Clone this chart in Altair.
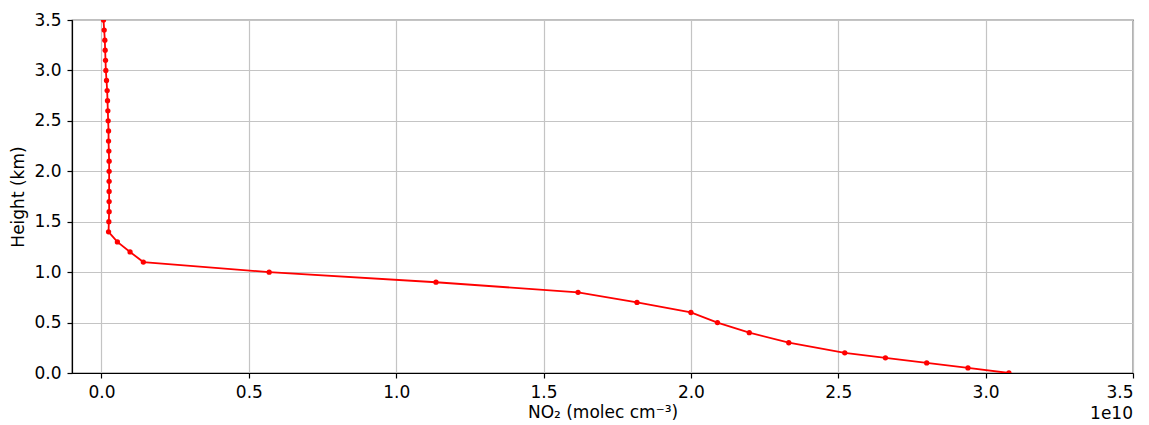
import altair as alt
import pandas as pd

heights = [0.0, 0.05, 0.1, 0.15, 0.2, 0.3, 0.4, 0.5, 0.6, 0.7, 0.8, 0.9, 1.0, 1.1, 1.2, 1.3, 1.4,
           1.5, 1.6, 1.7, 1.8, 1.9, 2.0, 2.1, 2.2, 2.3, 2.4, 2.5, 2.6, 2.7, 2.8, 2.9, 3.0, 3.1,
           3.2, 3.3, 3.4, 3.5]
no2 = [3.079e10, 2.94e10, 2.80e10, 2.66e10, 2.522e10, 2.332e10, 2.198e10, 2.09e10, 2.0e10,
       1.817e10, 1.617e10, 1.135e10, 0.569e10, 0.142e10, 0.097e10, 0.054e10, 0.024e10,
       0.025e10, 0.026e10, 0.026e10, 0.026e10, 0.026e10, 0.026e10, 0.026e10, 0.025e10,
       0.024e10, 0.024e10, 0.0227e10, 0.0216e10, 0.0205e10, 0.0193e10, 0.0171e10, 0.0148e10,
       0.0137e10, 0.0125e10, 0.0114e10, 0.0092e10, 0.0069e10]

df = pd.DataFrame({"no2": no2, "height": heights, "order": list(range(len(heights)))})

W, H = 1061, 353
FONT = "DejaVu Sans"
FS = 17

x = alt.X("no2:Q",
          scale=alt.Scale(domain=[-0.1e10, 3.5e10], nice=False, zero=False),
          axis=alt.Axis(values=[i * 0.5e10 for i in range(8)],
                        labelExpr="format(datum.value / 1e10, '.1f')",
                        title="NO\u2082 (molec cm\u207b\u00b3)", labelPadding=6))
y = alt.Y("height:Q",
          scale=alt.Scale(domain=[0, 3.5], nice=False),
          axis=alt.Axis(values=[i * 0.5 for i in range(8)], format=".1f",
                        title="Height (km)", labelPadding=6))

line = alt.Chart(df).mark_line(color="#ff0000", strokeWidth=1.8, clip=True).encode(
    x=x, y=y, order="order:Q")
pts = alt.Chart(df).mark_circle(color="#ff0000", size=28, opacity=1, clip=True).encode(
    x=x, y=y)
offset = alt.Chart(pd.DataFrame({"t": ["1e10"]})).mark_text(
    align="right", baseline="alphabetic", fontSize=FS, font=FONT, color="black").encode(
    x=alt.value(W), y=alt.value(H + 46), text="t:N")

chart = alt.layer(line, pts, offset).properties(
    width=W, height=H,
    autosize=alt.AutoSizeParams(type="none"),
    padding={"left": 64, "top": 12, "right": 8, "bottom": 52},
).configure_view(stroke="black", strokeWidth=1.2).configure_axis(
    labelFont=FONT, titleFont=FONT, labelFontSize=FS, titleFontSize=FS,
    titleFontWeight="normal", labelColor="black", titleColor="black",
    grid=True, gridColor="#c4c4c4", gridWidth=1.2,
    domainColor="black", domainWidth=1.2, tickColor="black", tickSize=5, tickWidth=1.2,
).configure_axisX(titlePadding=4).configure_axisY(titlePadding=6)

chart.save("out.html", embed_options={"renderer": "svg", "actions": False})
